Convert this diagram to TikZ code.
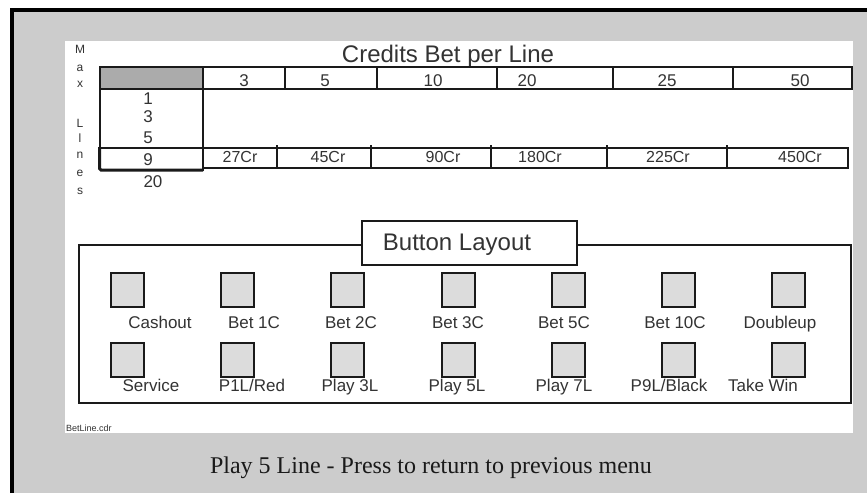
\documentclass[tikz,border=0pt]{standalone}
\usepackage{fontspec}
\setmainfont{Liberation Serif}
\newfontfamily\sansf{Liberation Sans}
\definecolor{panelgray}{HTML}{CCCCCC}
\definecolor{cellgray}{HTML}{ABABAB}
\definecolor{btngray}{HTML}{DCDCDC}
\definecolor{ink}{HTML}{1A1A1A}
\definecolor{txt}{HTML}{333333}
\begin{document}
\begin{tikzpicture}[x=1pt,y=-1pt,
  tbl/.style={draw=ink, line width=1.6pt},
  lbl/.style={font=\sansf\fontsize{17}{17}\selectfont, text=txt, inner sep=0pt, anchor=base},
  crl/.style={font=\sansf\fontsize{16}{16}\selectfont, text=txt, inner sep=0pt, anchor=base},
  vlet/.style={font=\sansf\fontsize{12}{12}\selectfont, text=txt, inner sep=0pt, anchor=base},
  ttl/.style={font=\sansf\fontsize{24}{24}\selectfont, text=txt, inner sep=0pt, anchor=base},
  btnbox/.style={draw=ink, line width=1.6pt, fill=btngray, minimum width=33pt, minimum height=34pt, inner sep=0pt, anchor=north west}]
\useasboundingbox (0,0) rectangle (867,493);
% background
\fill[white] (0,0) rectangle (867,493);
\fill[panelgray] (12,9) rectangle (867,493);
\fill[white] (65,41) rectangle (853,433);
\draw[black, line width=4pt] (12,493) -- (12,9.5) -- (867,9.5);

% title
\node[ttl] (title) at (448,62) {Credits Bet per Line};

% Max Lines vertical
\node[vlet] (vM) at (80,53) {M};
\node[vlet] (va) at (80,71) {a};
\node[vlet] (vx) at (80,87) {x};
\node[vlet] (vL) at (80,127) {L};
\node[vlet] (vl) at (80,142) {l};
\node[vlet] (vn) at (80,158) {n};
\node[vlet] (ve) at (80,176) {e};
\node[vlet] (vs) at (80,194) {s};

% header row
\fill[cellgray] (100,67) rectangle (203,89);
\draw[tbl] (100,67) rectangle (852,89);
\foreach \xx in {203,285,377,497,613,733} \draw[tbl] (\xx,67) -- (\xx,89);
\node[lbl] (h3) at (244,86) {3};
\node[lbl] (h5) at (325,86) {5};
\node[lbl] (h10) at (433,86) {10};
\node[lbl] (h20) at (527,86) {20};
\node[lbl] (h25) at (667,86) {25};
\node[lbl] (h50) at (800,86) {50};

% left column
\draw[tbl] (100,89) -- (100,148);
\draw[tbl] (203,89) -- (203,171);
\draw[tbl] (98,148) -- (203,148);
\draw[draw=ink, line width=3pt, rounded corners=1.5pt] (99.5,148) -- (99.5,170) -- (203,170);
\node[lbl] (n1) at (148,104) {1};
\node[lbl] (n3) at (148,122) {3};
\node[lbl] (n5) at (148,143) {5};
\node[lbl] (n9) at (148,165) {9};
\node[lbl] (n20) at (153,187) {20};

% credits row
\draw[tbl] (203,148) rectangle (848,168);
\foreach \xx in {277,371,491,607,727} \draw[tbl] (\xx,145) -- (\xx,168);
\node[crl] (c27) at (240,162) {27Cr};
\node[crl] (c45) at (328,162) {45Cr};
\node[crl] (c90) at (443,162) {90Cr};
\node[crl] (c180) at (540,162) {180Cr};
\node[crl] (c225) at (668,162) {225Cr};
\node[crl] (c450) at (800,162) {450Cr};

% button layout frame
\draw[tbl] (79,245) rectangle (851,403);
\draw[tbl, fill=white] (362,221) rectangle (577,265);
\node[ttl] (bl) at (457,250) {Button Layout};

% buttons row 1
\node[btnbox] (b1) at (110,272) {};
\node[btnbox] (b2) at (220,272) {};
\node[btnbox] (b3) at (330,272) {};
\node[btnbox] (b4) at (441,272) {};
\node[btnbox] (b5) at (551,272) {};
\node[btnbox] (b6) at (661,272) {};
\node[btnbox] (b7) at (771,272) {};
\node[lbl] (l1) at (160,328) {Cashout};
\node[lbl] (l2) at (254,328) {Bet 1C};
\node[lbl] (l3) at (351,328) {Bet 2C};
\node[lbl] (l4) at (458,328) {Bet 3C};
\node[lbl] (l5) at (564,328) {Bet 5C};
\node[lbl] (l6) at (675,328) {Bet 10C};
\node[lbl] (l7) at (780,328) {Doubleup};

% buttons row 2
\node[btnbox] (s1) at (110,342) {};
\node[btnbox] (s2) at (220,342) {};
\node[btnbox] (s3) at (330,342) {};
\node[btnbox] (s4) at (441,342) {};
\node[btnbox] (s5) at (551,342) {};
\node[btnbox] (s6) at (661,342) {};
\node[btnbox] (s7) at (771,342) {};
\node[lbl] (m1) at (151,391) {Service};
\node[lbl] (m2) at (252,391) {P1L/Red};
\node[lbl] (m3) at (350,391) {Play 3L};
\node[lbl] (m4) at (457,391) {Play 5L};
\node[lbl] (m5) at (564,391) {Play 7L};
\node[lbl] (m6) at (669,391) {P9L/Black};
\node[lbl] (m7) at (763,391) {Take Win};

% file name
\node[font=\sansf\fontsize{9}{9}\selectfont, text=txt, inner sep=0pt, anchor=base west] (fn) at (66,431) {BetLine.cdr};

% footer
\node[font=\fontsize{24}{24}\selectfont, text=ink, inner sep=0pt, anchor=base] (foot) at (431,473) {Play 5 Line - Press to return to previous menu};
\end{tikzpicture}
\end{document}
